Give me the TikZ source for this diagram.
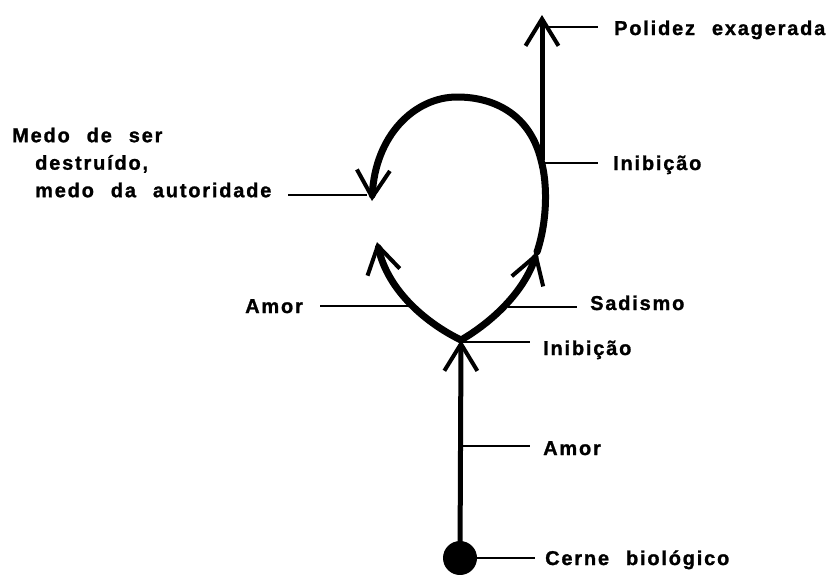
\documentclass[tikz,border=0pt]{standalone}
\usepackage{fontspec}
\newfontfamily\lblfont{Liberation Sans}[UprightFont={* Bold},LetterSpace=9,WordSpace=2.3,FakeBold=1.2]
\usetikzlibrary{arrows.meta}
\tikzset{barb/.tip={Straight Barb[length=27pt,width=33pt,line width=4pt 0]}}
\begin{document}
\begin{tikzpicture}[x=1pt,y=-1pt,
  thickline/.style={line width=7pt,line cap=round},
  stemline/.style={line width=5pt},
  leader/.style={line width=1.4pt},
  lbl/.style={font=\lblfont\fontsize{20}{27.5}\selectfont,inner sep=0pt,anchor=base west}]
\useasboundingbox (0,0) rectangle (826,574);
% key points
\coordinate (J) at (461,340);
\coordinate (R) at (537,252);
\coordinate (M) at (541,160);
\coordinate (T) at (457,97);
\coordinate (P) at (542,15);
\coordinate (A) at (377,242);
\coordinate (L) at (372,201);
\node[circle,fill=black,minimum size=34pt,inner sep=0pt] (D) at (460,558) {};
% stem
\draw[stemline,-{barb}] (D.center) -- (J);
% top vertical
\draw[stemline,-{barb}] (542,160) -- (P);
% left branch
\draw[thickline,-{barb}] (J) .. controls (428,324) and (388,292) .. (A);
% right branch
\draw[thickline,-{barb}] (J) .. controls (492,322) and (524,292) .. (R);
% loop
\draw[thickline,-{barb}] (R) .. controls (547,222) and (548,185) .. (M)
  .. controls (530,115) and (495,97) .. (T)
  .. controls (415,97) and (375,135) .. (L);
% labels
\node[lbl] (t1) at (614,35) {Polidez exagerada};
\node[lbl] (t2) at (613,170) {Inibição};
\node[lbl,anchor=north west,align=left] (t3) at (12,127.5) {Medo de ser\\\hspace*{23pt}destruído,\\\hspace*{23pt}medo da autoridade};
\node[lbl] (t4) at (245,313) {Amor};
\node[lbl] (t5) at (590,310) {Sadismo};
\node[lbl] (t6) at (543,355) {Inibição};
\node[lbl] (t7) at (543,455) {Amor};
\node[lbl] (t8) at (545,565) {Cerne biológico};
% leaders
\coordinate (l1a) at (542,27);  \coordinate (l1b) at (598,27);
\coordinate (l2a) at (542,163); \coordinate (l2b) at (598,163);
\coordinate (l3a) at (288,195); \coordinate (l3b) at (367,195);
\coordinate (l4a) at (320,306); \coordinate (l4b) at (410,306);
\coordinate (l5a) at (508,307); \coordinate (l5b) at (577,307);
\coordinate (l6a) at (461,342); \coordinate (l6b) at (530,342);
\coordinate (l7a) at (461,446); \coordinate (l7b) at (530,446);
\coordinate (l8b) at (535,558);
\draw[leader] (l1a) -- (l1b);
\draw[leader] (l2a) -- (l2b);
\draw[leader] (l3a) -- (l3b);
\draw[leader] (l4a) -- (l4b);
\draw[leader] (l5a) -- (l5b);
\draw[leader] (l6a) -- (l6b);
\draw[leader] (l7a) -- (l7b);
\draw[leader] (D.east) -- (l8b);
\end{tikzpicture}
\end{document}
